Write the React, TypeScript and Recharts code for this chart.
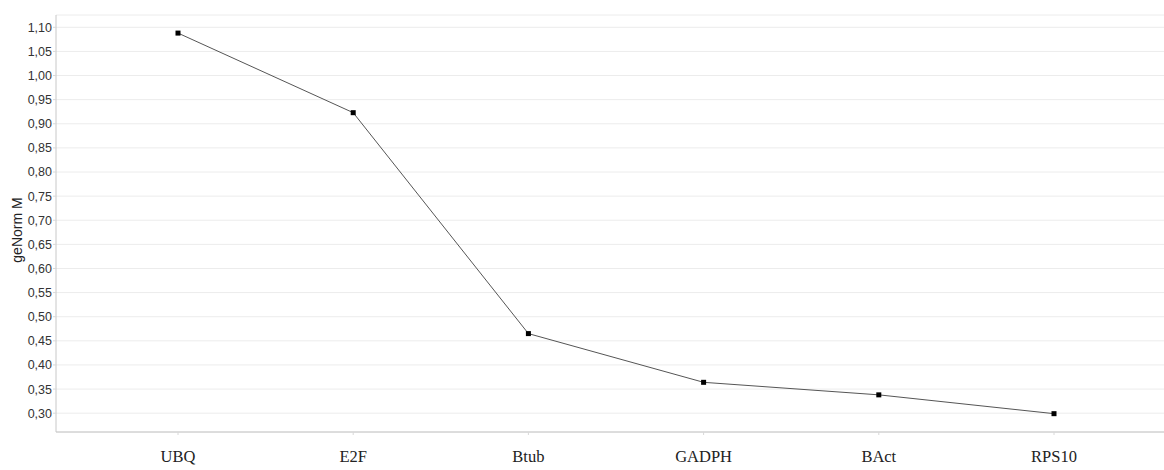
import React from 'react';
import { LineChart, Line, XAxis, YAxis, CartesianGrid } from 'recharts';

const genes = ['UBQ', 'E2F', 'Btub', 'GADPH', 'BAct', 'RPS10'];
const mValues = [1.088, 0.923, 0.465, 0.364, 0.338, 0.299];
const yTicks = [0.3, 0.35, 0.4, 0.45, 0.5, 0.55, 0.6, 0.65, 0.7, 0.75, 0.8, 0.85, 0.9, 0.95, 1.0, 1.05, 1.1];
const yMin = 0.261;
const yMax = 1.1255;

const data = genes.map((g, i) => ({ gene: g, m: mValues[i] }));

const fmt = (v: number) => v.toFixed(2).replace('.', ',');

const SquareDot = (props: any) => {
  const { cx, cy } = props;
  if (cx == null || cy == null) return null;
  return <rect x={cx - 2.5} y={cy - 2.5} width={5} height={5} fill="#000" />;
};

const YLabel = () => {
  const cx = 17;
  const cy = 230;
  return (
    <text
      x={cx}
      y={cy}
      transform={`rotate(-90, ${cx}, ${cy})`}
      textAnchor="middle"
      dominantBaseline="central"
      fontSize={14}
      fontFamily="Liberation Sans, Arial, sans-serif"
      fill="#222"
    >
      geNorm M
    </text>
  );
};

export default function App() {
  return (
    <div style={{ position: 'absolute', left: 0, top: 0, width: 1164, height: 470, overflow: 'hidden', background: '#fff' }}>
      <LineChart
        width={1170}
        height={470}
        data={data}
        margin={{ top: 15, right: 0, bottom: 0, left: 0 }}
      >
        <CartesianGrid vertical={false} stroke="#ececec" />
        <XAxis
          dataKey="gene"
          xAxisId="main"
          height={38}
          padding={{ left: 122, right: 116 }}
          axisLine={{ stroke: '#c4c4c4' }}
          tickLine={{ stroke: '#d8d8d8' }}
          tickSize={3}
          tickMargin={15}
          tick={{ fontSize: 16.5, fontFamily: 'Liberation Serif, Times New Roman, serif', fill: '#222' }}
          interval={0}
        />
        <XAxis
          dataKey="gene"
          xAxisId="top"
          orientation="top"
          height={0}
          tick={false}
          tickLine={false}
          axisLine={{ stroke: '#d4d4d4' }}
        />
        <YAxis
          width={56}
          domain={[yMin, yMax]}
          ticks={yTicks}
          allowDataOverflow
          tickFormatter={fmt}
          axisLine={{ stroke: '#c8c8c8' }}
          tickLine={{ stroke: '#d8d8d8' }}
          tickSize={3}
          tickMargin={1}
          tick={{ fontSize: 12.5, fontFamily: 'Liberation Sans, Arial, sans-serif', fill: '#333' }}
          interval={0}
          label={<YLabel />}
        />
        <Line
          xAxisId="main"
          type="linear"
          dataKey="m"
          stroke="#555"
          strokeWidth={1}
          dot={<SquareDot />}
          activeDot={false}
          isAnimationActive={false}
        />
      </LineChart>
    </div>
  );
}
